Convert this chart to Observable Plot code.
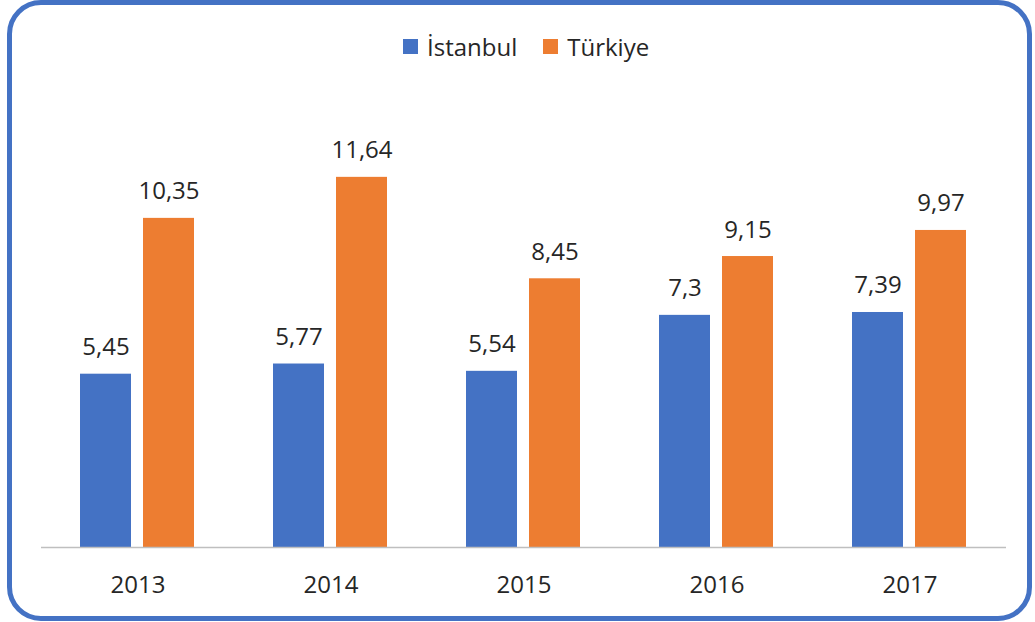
<!DOCTYPE html>
<html>
<head>
<meta charset="utf-8">
<script src="https://cdn.jsdelivr.net/npm/d3@7"></script>
<script src="https://cdn.jsdelivr.net/npm/@observablehq/plot@0.6"></script>
<style>
  html, body { margin: 0; padding: 0; background: #fff; }
  #wrap { position: relative; width: 1035px; height: 622px; overflow: hidden; font-family: "Open Sans", sans-serif; }
  #frame { position: absolute; left: 7px; top: 0px; width: 1025px; height: 621px; box-sizing: border-box;
           border: 5px solid #4472C4; border-radius: 34px; pointer-events: none; z-index: 2; }
  #legend { position: absolute; left: 403px; top: 30px; display: flex; align-items: center; gap: 0; z-index: 3;
            font-size: 24px; color: #262626; }
  .sw { display: inline-block; width: 15px; height: 15px; margin-right: 9px; }
  .item { display: flex; align-items: center; margin-right: 26px; }
  #chart { position: absolute; left: 0; top: 0; }
</style>
</head>
<body>
<div id="wrap">
  <div id="chart"></div>
  <div id="legend"></div>
  <div id="frame"></div>
</div>
<script>
const years = ["2013", "2014", "2015", "2016", "2017"];
const series = ["İstanbul", "Türkiye"];
const istanbul = [5.45, 5.77, 5.54, 7.3, 7.39];
const turkiye = [10.35, 11.64, 8.45, 9.15, 9.97];
const colors = ["#4472C4", "#ED7D31"];

const data = [];
years.forEach((y, i) => {
  data.push({year: y, series: series[0], value: istanbul[i]});
  data.push({year: y, series: series[1], value: turkiye[i]});
});
const fmt = v => String(v).replace(".", ",");

const chart = Plot.plot({
  width: 1035,
  height: 622,
  marginLeft: 40,
  marginRight: 29,
  marginTop: 133.6,
  marginBottom: 75,
  style: {fontFamily: "'Open Sans', sans-serif", background: "#fff"},
  fx: {domain: years, padding: 0, label: null},
  x: {domain: series, paddingInner: 0.1875, paddingOuter: 0.603, axis: null},
  y: {domain: [0, 13], axis: null},
  color: {domain: series, range: colors},
  marks: [
    Plot.barY(data, {fx: "year", x: "series", y: "value", fill: "series"}),
    Plot.ruleY([0], {stroke: "#BFBFBF", strokeWidth: 1.5}),
    Plot.text(data, {fx: "year", x: "series", y: "value", text: d => fmt(d.value),
      lineAnchor: "bottom", dy: -19, fontSize: 24, fill: "#262626"}),
    Plot.axisFx({anchor: "bottom", tickSize: 0, tickPadding: 28, fontSize: 24, label: null, color: "#262626"})
  ]
});
document.getElementById("chart").appendChild(chart);

const legend = document.getElementById("legend");
series.forEach((s, i) => {
  const item = document.createElement("div");
  item.className = "item";
  const sw = document.createElement("span");
  sw.className = "sw";
  sw.style.background = colors[i];
  const t = document.createElement("span");
  t.textContent = s;
  item.appendChild(sw);
  item.appendChild(t);
  legend.appendChild(item);
});
</script>
</body>
</html>
